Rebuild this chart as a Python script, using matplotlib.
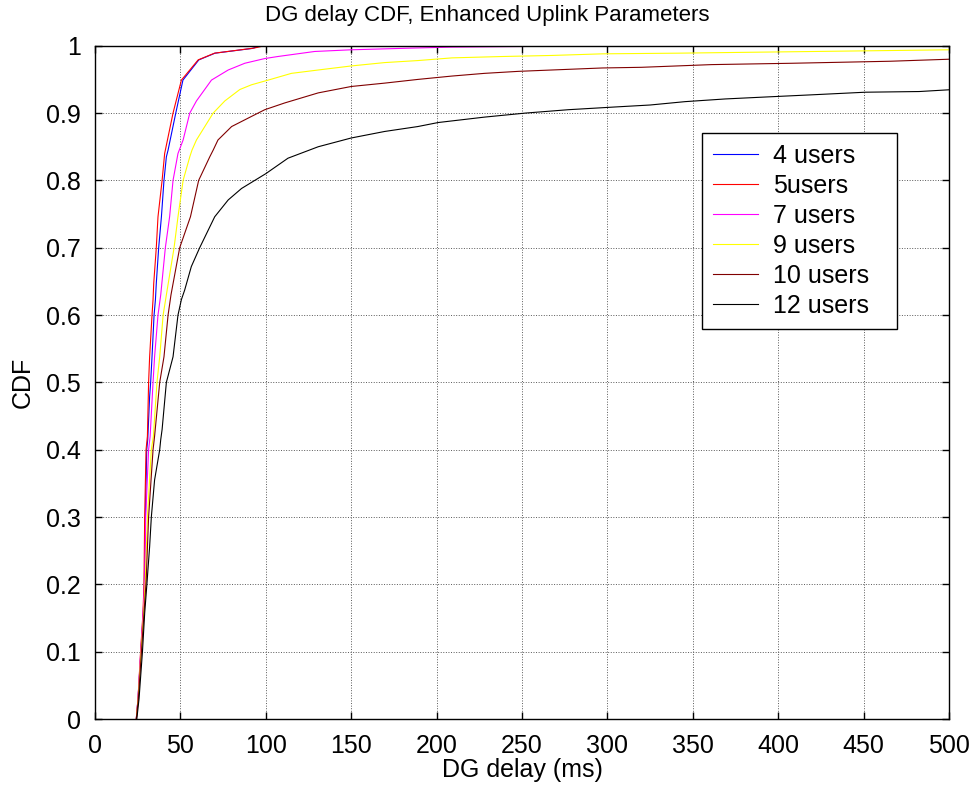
import matplotlib
matplotlib.use("Agg")
import matplotlib.pyplot as plt

plt.rcParams['font.family'] = ['Liberation Sans', 'DejaVu Sans']

# DG delay (ms) / CDF
x_4 = [24.2, 25.2, 26.9, 28.3, 28.9, 29.5, 30.3, 30.9, 32.0, 32.6, 33.4, 34.6, 35.4,
       35.9, 37.3, 38.9, 40.4, 41.8, 42.8, 47.3, 51.5, 60.8, 70.3, 92, 97]
y_4 = [0, 0.03, 0.10, 0.157, 0.20, 0.30, 0.40, 0.415, 0.479, 0.50, 0.538, 0.60, 0.623,
       0.647, 0.70, 0.746, 0.80, 0.835, 0.845, 0.90, 0.949, 0.979, 0.989, 0.996, 1.0]

x_5 = [24.2, 25.2, 26.7, 28.1, 28.7, 29.1, 29.9, 30.7, 31.4, 32.0, 33.4, 34.0, 34.4,
       35.9, 36.9, 39.3, 40.8, 45.7, 50.6, 60.4, 70.0, 93.0, 97.5, 277]
y_5 = [0, 0.03, 0.10, 0.157, 0.20, 0.30, 0.40, 0.42, 0.50, 0.538, 0.60, 0.623, 0.647,
       0.70, 0.746, 0.80, 0.84, 0.90, 0.949, 0.979, 0.989, 0.9965, 0.999, 1.0]

x_7 = [24.2, 25.2, 26.8, 28.2, 29.1, 29.7, 31.4, 32.3, 34.0, 34.9, 36.9, 38.5, 41.2,
       43.7, 45.7, 48.6, 51.6, 55.5, 59.4, 68.2, 78, 87.7, 99.4, 107, 128.6, 150, 185,
       209, 277, 500]
y_7 = [0, 0.03, 0.10, 0.157, 0.207, 0.30, 0.40, 0.42, 0.50, 0.538, 0.60, 0.63, 0.70,
       0.746, 0.80, 0.84, 0.86, 0.90, 0.918, 0.949, 0.964, 0.974, 0.981, 0.984, 0.9915,
       0.994, 0.9965, 0.998, 0.9995, 1.0]

x_9 = [24.2, 25.3, 27.0, 28.5, 29.5, 30.7, 33.0, 34.2, 36.3, 37.9, 39.9, 41.8, 46.3,
       48.6, 51.6, 55.5, 56.8, 59.4, 69.2, 76, 84.8, 91.6, 101.4, 115, 130.7, 150,
       169.6, 189, 209, 238, 267.5, 297, 341.7, 437, 500]
y_9 = [0, 0.03, 0.10, 0.157, 0.207, 0.30, 0.40, 0.42, 0.50, 0.538, 0.60, 0.63, 0.70,
       0.746, 0.80, 0.835, 0.845, 0.86, 0.90, 0.918, 0.935, 0.942, 0.949, 0.959, 0.964,
       0.970, 0.975, 0.978, 0.982, 0.984, 0.9856, 0.988, 0.989, 0.992, 0.994]

x_10 = [24.2, 25.4, 27.2, 28.7, 30.0, 31.4, 34.0, 34.9, 37.9, 40.4, 42.8, 44.5, 49.6,
        55.9, 60.7, 67.2, 69.2, 72, 80, 91.6, 99.4, 111, 130.7, 150, 169.6, 189, 209,
        228, 248, 267.5, 297, 320, 361, 408, 465.6, 500]
y_10 = [0, 0.03, 0.10, 0.157, 0.207, 0.30, 0.40, 0.42, 0.50, 0.538, 0.60, 0.63, 0.70,
        0.746, 0.80, 0.835, 0.845, 0.86, 0.88, 0.895, 0.905, 0.915, 0.93, 0.9395,
        0.9445, 0.950, 0.955, 0.959, 0.962, 0.964, 0.967, 0.968, 0.972, 0.974, 0.977,
        0.980]

x_12 = [24.5, 25.8, 27.8, 29.1, 30.4, 31.0, 32.0, 33.0, 34.9, 37.9, 38.5, 39.3, 41.8,
        45.7, 48.6, 50.6, 52.5, 56.4, 61.3, 70.1, 78, 85.8, 100, 113, 130.7, 150,
        169.6, 189, 201, 228, 252, 277, 304, 325, 345.5, 369, 393.5, 418.7, 451,
        482.5, 500]
y_12 = [0, 0.03, 0.10, 0.157, 0.20, 0.2214, 0.256, 0.30, 0.355, 0.40, 0.415, 0.43,
        0.50, 0.538, 0.60, 0.623, 0.637, 0.672, 0.70, 0.746, 0.771, 0.788, 0.81, 0.833,
        0.850, 0.863, 0.8727, 0.880, 0.886, 0.894, 0.900, 0.905, 0.909, 0.912, 0.917,
        0.921, 0.924, 0.927, 0.931, 0.932, 0.9346]

series = [
    (x_4, y_4, "4 users", "#0000FF"),
    (x_5, y_5, "5users", "#FF0000"),
    (x_7, y_7, "7 users", "#FF00FF"),
    (x_9, y_9, "9 users", "#FFFF00"),
    (x_10, y_10, "10 users", "#800000"),
    (x_12, y_12, "12 users", "#000000"),
]

x_ticks = list(range(0, 501, 50))
y_ticks = [0, 0.1, 0.2, 0.3, 0.4, 0.5, 0.6, 0.7, 0.8, 0.9, 1]
y_labels = ["0", "0.1", "0.2", "0.3", "0.4", "0.5", "0.6", "0.7", "0.8", "0.9", "1"]

fig = plt.figure(figsize=(9.75, 7.93), dpi=100)
ax = fig.add_axes([0.0974, 0.0933, 0.876, 0.849])

for xs, ys, lab, col in series:
    ax.plot(xs, ys, color=col, linewidth=0.8, label=lab)

ax.set_xlim(0, 500)
ax.set_ylim(0, 1)
ax.set_xticks(x_ticks)
ax.set_yticks(y_ticks)
ax.set_yticklabels(y_labels)
ax.tick_params(direction="in", top=True, right=True, length=5, width=1,
               labelsize=18)
ax.tick_params(axis="x", pad=11)
ax.tick_params(axis="y", pad=10)
ax.grid(True, linestyle=":", color="0.35", linewidth=0.7)
for sp in ax.spines.values():
    sp.set_linewidth(1.0)

fig.text(0.5, 0.981, "DG delay CDF, Enhanced Uplink Parameters", fontsize=16,
         ha="center", va="center")
ax.set_xlabel("DG delay (ms)", fontsize=18, labelpad=0)
ax.set_ylabel("CDF", fontsize=18, labelpad=8)

leg = ax.legend(loc="upper left", bbox_to_anchor=(0.711, 0.581, 0.228, 0.29),
                mode="expand", fontsize=18,
                fancybox=False, framealpha=1, edgecolor="black",
                handlelength=1.8, handletextpad=0.6, labelspacing=0.24,
                borderpad=0.45, borderaxespad=0)
leg.get_frame().set_linewidth(1.0)

plt.savefig("out.png", dpi=100)
